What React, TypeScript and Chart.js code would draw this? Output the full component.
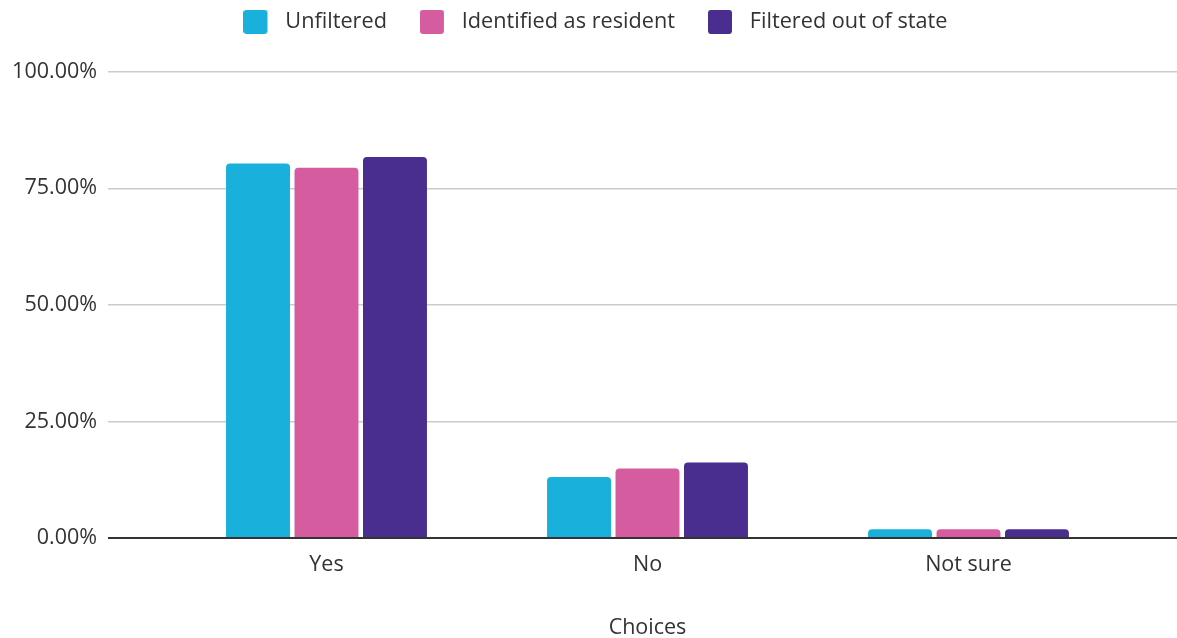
import React, { useEffect, useRef } from 'react';
import { Chart, registerables } from 'chart.js';

Chart.register(...registerables);

const categories = ['Yes', 'No', 'Not sure'];
const seriesNames = ['Unfiltered', 'Identified as resident', 'Filtered out of state'];
const unfiltered = [80.3, 13.1, 1.9];
const identifiedResident = [79.4, 14.9, 1.9];
const filteredOutOfState = [81.7, 16.2, 1.9];
const seriesColors = ['#19B1DB', '#D55C9F', '#492E8F'];
const yTickValues = [0, 25, 50, 75, 100];
const xTitle = 'Choices';

const FONT = "'Open Sans', 'DejaVu Sans', sans-serif";
const TEXT = '#333333';

function makeSwatch(color: string) {
  const c = document.createElement('canvas');
  c.width = 31;
  c.height = 24;
  const g = c.getContext('2d')!;
  g.fillStyle = color;
  g.beginPath();
  (g as any).roundRect(0, 0, 24, 24, 3);
  g.fill();
  return c;
}

const legendTweaks = {
  id: 'legendTweaks',
  beforeInit(chart: any) {
    const legend = chart.legend;
    if (!legend) return;
    const origFit = legend.fit;
    legend.fit = function () {
      origFit.call(this);
      this.height += 7;
    };
    const origDraw = legend.draw;
    legend.draw = function () {
      this.ctx.save();
      this.ctx.translate(7, -22);
      origDraw.call(this);
      this.ctx.restore();
    };
  },
};

export default function App() {
  const ref = useRef<HTMLCanvasElement | null>(null);

  useEffect(() => {
    if (!ref.current) return;
    const swatches = seriesColors.map(makeSwatch);
    const gridColor = (ctx: any) => (ctx.tick && ctx.tick.value === 0 ? '#333333' : '#cccccc');
    const gridWidth = (ctx: any) => (ctx.tick && ctx.tick.value === 0 ? 2 : 1.5);
    const chart = new Chart(ref.current, {
      type: 'bar',
      data: {
        labels: categories,
        datasets: [unfiltered, identifiedResident, filteredOutOfState].map((d, i) => ({
          label: seriesNames[i],
          data: d,
          backgroundColor: seriesColors[i],
          borderRadius: 4,
          borderSkipped: 'start',
          categoryPercentage: 0.64,
          barPercentage: 0.934,
        })),
      },
      options: {
        responsive: false,
        animation: false,
        plugins: {
          legend: {
            position: 'top',
            labels: {
              usePointStyle: true,
              pointStyleWidth: 31,
              boxHeight: 24,
              padding: 33,
              color: TEXT,
              font: { family: FONT, size: 21.7 },
              generateLabels: (chart: any) =>
                chart.data.datasets.map((ds: any, i: number) => ({
                  text: ds.label,
                  fillStyle: ds.backgroundColor,
                  strokeStyle: ds.backgroundColor,
                  lineWidth: 0,
                  pointStyle: swatches[i],
                  datasetIndex: i,
                  fontColor: TEXT,
                })),
            },
          },
          tooltip: { enabled: false },
        },
        scales: {
          x: {
            grid: { display: false },
            border: { display: false },
            ticks: { color: TEXT, font: { family: FONT, size: 21.5 }, padding: 6 },
            title: {
              display: true,
              text: xTitle,
              color: TEXT,
              font: { family: FONT, size: 21.5, lineHeight: 0.95 },
              padding: { top: 0, bottom: 0 },
            },
            afterFit: (scale: any) => {
              scale.height = 100;
            },
          },
          y: {
            min: 0,
            max: 100,
            afterBuildTicks: (scale: any) => {
              scale.ticks = yTickValues.map((v) => ({ value: v }));
            },
            ticks: {
              color: TEXT,
              font: { family: FONT, size: 21.5 },
              padding: 11,
              callback: (v: any) => Number(v).toFixed(2) + '%',
            },
            grid: { color: gridColor, lineWidth: gridWidth, tickLength: 58 },
            border: { display: false },
            afterFit: (scale: any) => {
              scale.width = 166;
            },
          },
          y2: {
            type: 'linear',
            position: 'right',
            min: 0,
            max: 100,
            afterBuildTicks: (scale: any) => {
              scale.ticks = yTickValues.map((v) => ({ value: v }));
            },
            ticks: { display: false },
            grid: { color: gridColor, lineWidth: gridWidth, tickLength: 48, drawOnChartArea: false },
            border: { display: false },
            afterFit: (scale: any) => {
              scale.width = 48;
            },
          },
        },
      },
      plugins: [legendTweaks],
    } as any);
    return () => chart.destroy();
  }, []);

  return (
    <div style={{ position: 'absolute', left: 0, top: 0, width: 1177, height: 638, background: '#ffffff' }}>
      <canvas ref={ref} width={1177} height={638} />
    </div>
  );
}
